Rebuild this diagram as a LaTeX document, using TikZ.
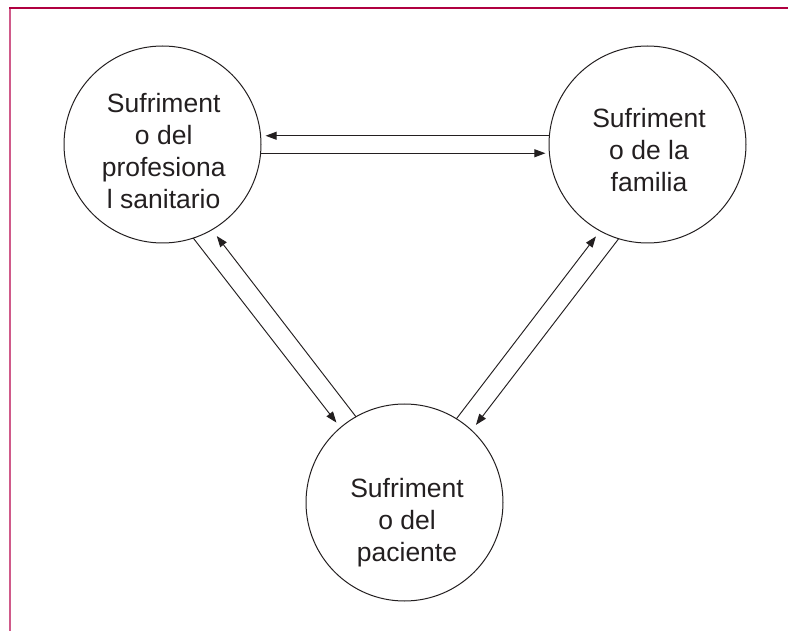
\documentclass[tikz,border=0pt]{standalone}
\usepackage{fontspec}
\setmainfont{Liberation Sans}
\usetikzlibrary{arrows.meta,calc}
\definecolor{framedark}{RGB}{176,0,64}
\definecolor{framelight}{RGB}{208,90,138}
\definecolor{ink}{RGB}{35,31,32}
\tikzset{
  circ/.style={circle,draw=ink,line width=1pt,minimum size=197pt,inner sep=0pt},
  lbl/.style={anchor=north,inner sep=0pt,align=center,text=ink,font=\fontsize{26.5}{32}\selectfont},
  conn/.style={-{Triangle[length=11pt,width=8pt]},draw=ink,line width=0.95pt},
}
\begin{document}
\begin{tikzpicture}[x=1pt,y=-1pt]
\useasboundingbox (0,0) rectangle (788,631);
\draw[framelight,line width=2pt] (9.8,8) -- (9.8,631);
\draw[framedark,line width=1.4pt] (9,8) -- (788,8);
\node[circ] (L) at (162.5,144.5) {};
\node[circ] (R) at (647.5,144.5) {};
\node[circ] (B) at (404.5,502.5) {};
\node[lbl] (tL) at (163.7,93.5) {Sufriment\\o del\\profesiona\\l sanitario};
\node[lbl] (tR) at (649,108) {Sufriment\\o de la\\familia};
\node[lbl] (tB) at (407,478) {Sufriment\\o del\\paciente};
\draw[conn,shorten >=5pt] ($(R)+(-174.9:98.5)$) -- ($(L)+(-5.1:98.5)$);
\draw[conn,shorten >=4pt] ($(L)+(5.1:98.5)$) -- ($(R)+(174.9:98.5)$);
\draw[conn,shorten >=6.5pt] ($(L)+(71.8:98.5)$) -- ($(B)+(-130.6:98.5)$);
\draw[conn,shorten >=8pt] ($(B)+(-119.5:98.5)$) -- ($(L)+(59.9:98.5)$);
\draw[conn,shorten >=7pt] ($(B)+(-58.2:98.5)$) -- ($(R)+(118.7:98.5)$);
\draw[conn,shorten >=7pt] ($(R)+(107:98.5)$) -- ($(B)+(-47:98.5)$);
\end{tikzpicture}
\end{document}
